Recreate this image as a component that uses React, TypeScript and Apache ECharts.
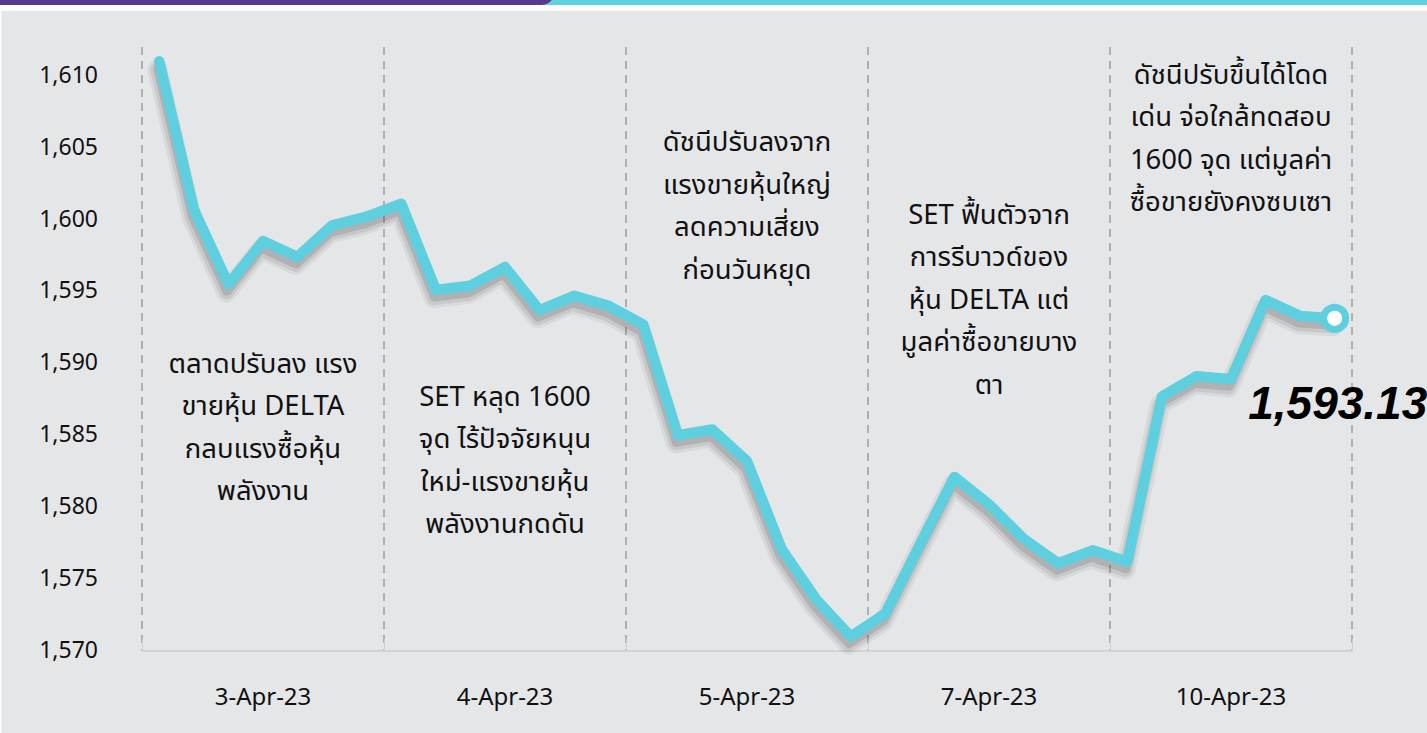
import React, { useEffect, useRef } from 'react';
import * as echarts from 'echarts';

// ---- data ----
const days = ['3-Apr-23', '4-Apr-23', '5-Apr-23', '7-Apr-23', '10-Apr-23'];
const day1 = [1611.0, 1600.7, 1595.5, 1598.5, 1597.4, 1599.6, 1600.2];
const day2 = [1601.1, 1595.1, 1595.4, 1596.7, 1593.7, 1594.7, 1594.0];
const day3 = [1592.7, 1585.0, 1585.4, 1583.2, 1577.1, 1573.6, 1571.0];
const day4 = [1572.6, 1577.4, 1582.1, 1580.2, 1577.8, 1576.1, 1577.0];
const day5 = [1576.2, 1587.7, 1589.1, 1588.9, 1594.4, 1593.3, 1593.13];
const yMin = 1570;
const yMax = 1612;
const yStep = 5;

const note1 = ['ตลาดปรับลง แรง', 'ขายหุ้น DELTA', 'กลบแรงซื้อหุ้น', 'พลังงาน'];
const note2 = ['SET หลุด 1600', 'จุด ไร้ปัจจัยหนุน', 'ใหม่-แรงขายหุ้น', 'พลังงานกดดัน'];
const note3 = ['ดัชนีปรับลงจาก', 'แรงขายหุ้นใหญ่', 'ลดความเสี่ยง', 'ก่อนวันหยุด'];
const note4 = ['SET ฟื้นตัวจาก', 'การรีบาวด์ของ', 'หุ้น DELTA แต่', 'มูลค่าซื้อขายบาง', 'ตา'];
const note5 = ['ดัชนีปรับขึ้นได้โดด', 'เด่น จ่อใกล้ทดสอบ', '1600 จุด แต่มูลค่า', 'ซื้อขายยังคงซบเซา'];
const noteLevels = [1585.5, 1583.2, 1600.9, 1594.4, 1605.6];

const PER_DAY = 7;
const CYAN = '#5ECFDF';
const FONT = '"Noto Sans Thai", "Noto Sans", sans-serif';

export default function App() {
  const ref = useRef<HTMLDivElement>(null);

  useEffect(() => {
    if (!ref.current) return;
    const chart = echarts.init(ref.current, undefined, { renderer: 'svg' });

    const perDay = [day1, day2, day3, day4, day5];
    const categories = days.flatMap((d) => Array(PER_DAY).fill(d));
    const values = perDay.flat();
    const lastIdx = values.length - 1;

    const seriesData = values.map((v, i) =>
      i === lastIdx
        ? {
            value: v,
            symbol: 'circle',
            symbolSize: 22,
            itemStyle: { color: '#ffffff', borderColor: CYAN, borderWidth: 7 },
            label: {
              show: true,
              position: [-72, 99],
              align: 'left',
              verticalAlign: 'middle',
              formatter: (p: any) =>
                Number(p.value).toLocaleString('en-US', { minimumFractionDigits: 2, maximumFractionDigits: 2 }),
              fontFamily: '"Liberation Sans", Arial, sans-serif',
              fontStyle: 'italic',
              fontWeight: 'bold',
              fontSize: 46,
              color: '#000000',
            },
          }
        : v
    );

    const notes = [note1, note2, note3, note4, note5];
    const markData = notes.map((lines, k) => ({
      coord: [k * PER_DAY + 3, noteLevels[k]],
      symbol: 'circle',
      symbolSize: 0,
      label: {
        show: true,
        position: 'inside',
        formatter: lines.join('\n'),
        fontFamily: FONT,
        fontSize: 27.5,
        lineHeight: 42.5,
        color: '#111111',
        align: 'center',
        verticalAlign: 'middle',
      },
    }));

    const hiddenX = {
      type: 'category',
      data: categories,
      boundaryGap: true,
      show: false,
    };
    const hiddenY = { type: 'value', min: yMin, max: yMax, interval: yStep, show: false };

    const shadowSeries = (gi: number, width: number, alpha: number) => ({
      type: 'line',
      xAxisIndex: gi,
      yAxisIndex: gi,
      data: values,
      symbol: 'none',
      silent: true,
      z: 1,
      lineStyle: { color: `rgba(60,60,60,${alpha})`, width, cap: 'round', join: 'round' },
    });

    chart.setOption({
      animation: false,
      backgroundColor: '#E5E6E8',
      grid: [
        { left: 142, right: 75, top: 47, bottom: 82 },
        { left: 140, right: 77, top: 55, bottom: 74 },
        { left: 140.5, right: 76.5, top: 54, bottom: 75 },
      ],
      xAxis: [
        {
          type: 'category',
          data: categories,
          boundaryGap: true,
          gridIndex: 0,
          axisLine: { show: true, lineStyle: { color: '#D2D3D5', width: 2 } },
          axisTick: { show: true, inside: true, length: 12, interval: PER_DAY - 1, lineStyle: { color: '#CFCFCF', width: 1 } },
          axisLabel: {
            interval: (i: number) => i % PER_DAY === 3,
            margin: 35,
            fontFamily: FONT,
            fontSize: 24,
            color: '#111111',
          },
          splitLine: {
            show: true,
            interval: PER_DAY - 1,
            lineStyle: { color: '#9E9E9E', width: 1.5, type: [8, 6] },
          },
        },
        { ...hiddenX, gridIndex: 1 },
        { ...hiddenX, gridIndex: 2 },
      ],
      yAxis: [
        {
          type: 'value',
          gridIndex: 0,
          min: yMin,
          max: yMax,
          interval: yStep,
          axisLine: { show: false },
          axisTick: { show: false },
          splitLine: { show: false },
          axisLabel: {
            showMaxLabel: false,
            margin: 44,
            fontFamily: FONT,
            fontSize: 23,
            color: '#111111',
            formatter: (v: number) => v.toLocaleString('en-US'),
          },
        },
        { ...hiddenY, gridIndex: 1 },
        { ...hiddenY, gridIndex: 2 },
      ],
      graphic: [
        { type: 'rect', left: 0, top: 0, shape: { width: 1427, height: 11 }, style: { fill: '#FFFFFF' }, z: 10 },
        { type: 'rect', left: 0, top: 0, shape: { width: 1.5, height: 733 }, style: { fill: '#FFFFFF' }, z: 10 },
        { type: 'rect', x: 530, y: -20, shape: { x: 0, y: 0, width: 920, height: 25 }, style: { fill: CYAN }, z: 11 },
        { type: 'rect', x: -20, y: -20, shape: { x: 0, y: 0, width: 575, height: 25, r: [0, 0, 14, 0] }, style: { fill: '#563A92' }, z: 12 },
      ],
      series: [
        shadowSeries(1, 20, 0.07),
        shadowSeries(1, 14, 0.11),
        shadowSeries(2, 9, 0.16),
        {
          type: 'line',
          xAxisIndex: 0,
          yAxisIndex: 0,
          data: seriesData,
          symbol: 'none',
          showSymbol: true,
          z: 5,
          lineStyle: {
            color: CYAN,
            width: 10.5,
            cap: 'round',
            join: 'round',
          },
          markPoint: {
            silent: true,
            data: markData,
          },
        },
      ],
    });

    return () => chart.dispose();
  }, []);

  return (
    <div
      ref={ref}
      style={{ position: 'fixed', left: 0, top: 0, width: 1427, height: 733 }}
    />
  );
}
